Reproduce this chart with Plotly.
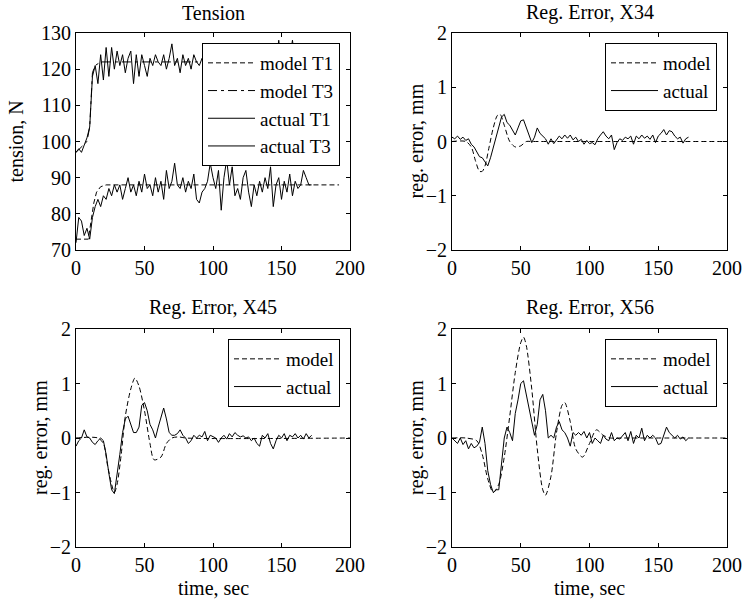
import plotly.graph_objects as go

# ---------------- data ----------------
t_act = list(range(0, 174, 2))

tension_actual_T1 = [72, 79, 78, 74, 76, 73, 79, 82, 84, 82, 85, 84, 87, 85, 88, 86, 88, 84, 87, 90,
                     86, 88, 85, 89, 86, 91, 87, 88, 85, 90, 86, 89, 84, 92, 87, 89, 94, 88, 87, 90,
                     86, 89, 87, 91, 84, 83, 86, 87, 89, 94, 90, 87, 92, 81, 90, 95, 88, 93, 85, 87,
                     84, 90, 92, 86, 82, 88, 85, 89, 86, 90, 87, 93, 82, 88, 90, 84, 89, 86, 91, 85,
                     89, 87, 88, 92, 90, 88, 88]
tension_actual_T3 = [97, 98, 97, 99, 101, 104, 118, 121, 116, 124, 117, 126, 118, 126, 120, 125, 121, 124, 119, 123,
                     125, 116, 124, 118, 124, 121, 118, 123, 121, 124, 122, 121, 124, 120, 123, 127, 121, 123, 119, 124,
                     121, 123, 120, 124, 122, 121, 123, 120, 124, 122, 121, 123, 122, 120, 124, 122, 121, 123, 120, 122,
                     124, 121, 123, 122, 120, 124, 121, 123, 122, 121, 123, 124, 120, 122, 128, 121, 127, 120, 123, 128,
                     122, 121, 123, 122, 121, 123, 122]
t_model_T1 = [0, 9, 11, 13, 15, 18, 22, 30, 40, 192]
tension_model_T1 = [73, 73, 78, 83, 86, 87.5, 88, 88, 88, 88]
t_model_T3 = [0, 8, 10, 11, 12, 14, 18, 25, 192]
tension_model_T3 = [97, 100, 104, 114, 119, 121, 122, 122, 122]

x34_actual = [0.08, 0.05, 0.1, 0.04, 0.08, 0.02, 0.05, -0.05, -0.1, -0.2, -0.28, -0.3, -0.38, -0.45, -0.3, -0.1,
              0.1, 0.3, 0.45, 0.5, 0.35, 0.3, 0.2, 0.12, 0.25, 0.38, 0.4, 0.25, 0.1, -0.02, 0.08, 0.25,
              0.15, 0.1, 0.05, -0.05, 0.05, -0.04, 0.02, 0.1, 0.05, 0.12, 0.06, 0.12, 0.03, 0.08, 0.0, 0.04,
              -0.05, 0.02, -0.04, -0.02, -0.06, 0.05, 0.12, 0.18, 0.1, 0.05, 0.12, -0.15, -0.02, 0.05, 0.02, 0.08,
              0.05, 0.1, -0.05, 0.1, 0.05, 0.12, 0.06, 0.1, 0.04, 0.12, -0.02, 0.1, 0.15, 0.22, 0.12, 0.2,
              0.18, 0.1, 0.05, 0.08, -0.03, 0.05, 0.08]
t_model_x34 = [0, 10, 14, 17, 20, 22, 24, 27, 30, 33, 35, 38, 42, 46, 50, 54, 58, 200]
x34_model = [0, 0.0, -0.1, -0.35, -0.55, -0.55, -0.45, -0.1, 0.25, 0.48, 0.5, 0.3, 0.0, -0.1, -0.08, 0.0, 0.0, 0.0]

x45_actual = [-0.15, -0.05, 0.0, 0.15, 0.02, 0.0, -0.08, -0.12, -0.05, 0.0, -0.05, -0.3, -0.65, -0.95, -1.02, -0.7,
              -0.3, 0.1, 0.35, 0.4, 0.25, 0.1, 0.1, 0.2, 0.6, 0.65, 0.5, 0.25, 0.15, 0.0, 0.2, 0.4,
              0.55, 0.35, 0.1, 0.05, 0.05, 0.08, 0.15, 0.05, 0.0, -0.1, -0.05, 0.05, 0.0, 0.05, 0.02, 0.12,
              -0.05, 0.05, 0.02, 0.0, -0.08, 0.0, 0.05, -0.02, 0.08, 0.02, 0.1, 0.05, 0.02, 0.04, 0.0, 0.02,
              -0.05, 0.0, -0.1, -0.15, 0.05, 0.0, 0.08, -0.1, -0.2, -0.05, 0.05, 0.0, 0.08, -0.05, 0.05, 0.02,
              0.08, 0.0, 0.05, -0.02, 0.08, 0.0, 0.05]
t_model_x45 = [0, 16, 20, 23, 26, 28, 30, 33, 36, 40, 43, 46, 50, 54, 57, 62, 66, 70, 75, 80, 200]
x45_model = [0, 0, -0.1, -0.5, -0.85, -1.0, -0.85, -0.3, 0.4, 0.9, 1.1, 0.95, 0.5, -0.1, -0.4, -0.35, -0.1, 0.0, 0.02, 0.0, 0.0]

x56_actual = [0.0, -0.05, -0.1, 0.0, -0.12, -0.05, -0.2, -0.1, -0.18, -0.15, -0.08, 0.2, -0.1, -0.6, -0.85, -1.0,
              -0.95, -0.95, -0.5, 0.0, 0.2, 0.1, -0.05, 0.45, 0.7, 1.0, 1.05, 0.8, 0.5, 0.3, 0.05, 0.25,
              0.7, 0.8, 0.5, 0.0, 0.05, 0.0, 0.2, 0.3, 0.15, 0.1, 0.0, -0.15, 0.1, 0.05, 0.1, 0.05,
              0.12, 0.0, 0.1, -0.1, 0.0, -0.05, -0.1, 0.05, -0.02, -0.05, 0.1, -0.05, 0.0, -0.02, 0.05, 0.1,
              -0.05, 0.12, -0.1, 0.05, 0.0, 0.18, -0.05, 0.05, 0.0, 0.05, 0.0, -0.12, -0.1, 0.05, 0.2, 0.1,
              0.05, 0.0, 0.05, -0.02, 0.02, -0.05, 0.0]
t_model_x56 = [0, 10, 18, 22, 26, 30, 34, 38, 42, 46, 50, 52, 54, 58, 62, 66, 68, 72, 76, 80, 82, 86, 90, 95, 100, 105, 110, 115, 120, 200]
x56_model = [0, 0, -0.05, -0.3, -0.75, -1.0, -0.85, -0.35, 0.4, 1.2, 1.75, 1.85, 1.7, 0.9, -0.2, -0.95, -1.05, -0.7, 0.1, 0.6, 0.65, 0.3, -0.2, -0.35, -0.1, 0.15, 0.05, 0.0, 0.0, 0.0]

titles = ["Tension", "Reg. Error, X34", "Reg. Error, X45", "Reg. Error, X56"]
x_ticks = [0, 50, 100, 150, 200]

# ---------------- figure ----------------
FONT = "Liberation Serif"
W, H = 742, 602
fig = go.Figure()

DASH = "5px,3px"
def add(x, y, name, leg, ax, dash="solid", spline=False):
    fig.add_trace(go.Scatter(x=x, y=y, name=name, mode="lines", legend=leg,
                             xaxis="x" + ax, yaxis="y" + ax,
                             line=dict(color="black", width=1, dash=dash,
                                       shape="spline" if spline else "linear", smoothing=0.8)))

add(t_model_T1, tension_model_T1, "model T1", "legend", "", DASH)
add(t_model_T3, tension_model_T3, "model T3", "legend", "", "9px,4px,3px,4px")
add(t_act, tension_actual_T1, "actual T1", "legend", "")
add(t_act, tension_actual_T3, "actual T3", "legend", "")

add(t_model_x34, x34_model, "model", "legend2", "2", DASH, True)
add(t_act, x34_actual, "actual", "legend2", "2")
add(t_model_x45, x45_model, "model", "legend3", "3", DASH, True)
add(t_act, x45_actual, "actual", "legend3", "3")
add(t_model_x56, x56_model, "model", "legend4", "4", DASH, True)
add(t_act, x56_actual, "actual", "legend4", "4")

def px(x): return x / W
def py(y): return 1 - y / H

xdom = [[px(76), px(350)], [px(452), px(727)]]
ydom = [[py(250), py(33)], [py(547), py(329)]]

tickfont = dict(family=FONT, size=20, color="black")
axcommon = dict(showline=True, mirror="ticks", linecolor="black", linewidth=1,
                ticks="inside", ticklen=4, tickcolor="black", showgrid=False,
                zeroline=False, tickfont=tickfont, automargin=False)

layout = dict(width=W, height=H, margin=dict(l=0, r=0, t=0, b=0),
              paper_bgcolor="white", plot_bgcolor="white",
              font=dict(family=FONT, size=20, color="black"))

cells = [("", 0, 0), ("2", 1, 0), ("3", 0, 1), ("4", 1, 1)]
for ax, c, r in cells:
    yr = [70, 130] if ax == "" else [-2, 2]
    ydt = 10 if ax == "" else 1
    layout["xaxis" + ax] = dict(axcommon, domain=xdom[c], range=[0, 200], tickvals=x_ticks,
                                anchor="y" + ax)
    layout["yaxis" + ax] = dict(axcommon, domain=ydom[r], range=yr, dtick=ydt,
                                anchor="x" + ax)

legbase = dict(bgcolor="white", bordercolor="black", borderwidth=1,
               font=dict(family=FONT, size=19, color="black"),
               xanchor="right", yanchor="top", tracegroupgap=0, itemwidth=47)
layout["legend"] = dict(legbase, x=px(340), y=py(43))
layout["legend2"] = dict(legbase, x=px(717), y=py(43))
layout["legend3"] = dict(legbase, x=px(340), y=py(339))
layout["legend4"] = dict(legbase, x=px(717), y=py(339))

ann = []
def text(x, y, s, angle=0):
    ann.append(dict(x=px(x), y=py(y), xref="paper", yref="paper", text=s, showarrow=False,
                    textangle=angle, xanchor="center", yanchor="middle",
                    font=dict(family=FONT, size=20, color="black")))

text(213, 13, titles[0])
text(589.5, 13, titles[1])
text(213, 307, titles[2])
text(589.5, 307, titles[3])
text(15, 141.5, "tension, N", -90)
text(416, 141.5, "reg. error, mm", -90)
text(40, 438, "reg. error, mm", -90)
text(416, 438, "reg. error, mm", -90)
text(213, 588, "time, sec")
text(589.5, 588, "time, sec")
layout["annotations"] = ann

fig.update_layout(**layout)
fig.write_html("out.html", config={"displayModeBar": False},
               post_script="document.body.style.margin='0';document.body.style.overflow='hidden';")
